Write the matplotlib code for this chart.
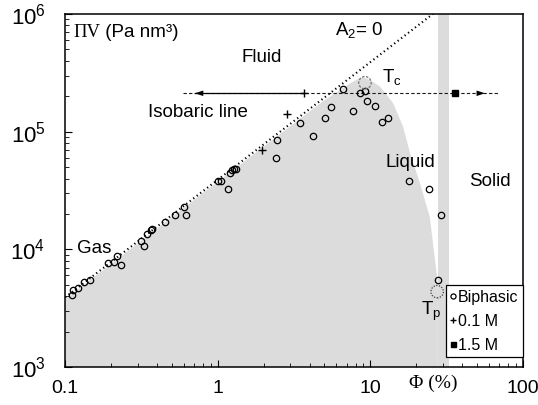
import matplotlib
matplotlib.use("Agg")
import matplotlib.pyplot as plt
import matplotlib.ticker as mticker
import numpy as np

plt.rcParams['font.family'] = ['Liberation Sans', 'DejaVu Sans']
plt.rcParams['mathtext.fontset'] = 'custom'
plt.rcParams['mathtext.rm'] = 'Liberation Sans'
plt.rcParams['mathtext.it'] = 'Liberation Sans:italic'

# biphasic samples: volume fraction (%) and osmotic pressure * volume (Pa nm^3)
biphasic_phi = [0.111, 0.112, 0.121, 0.134, 0.146, 0.191, 0.211, 0.220, 0.233,
                0.313, 0.330, 0.344, 0.365, 0.373, 0.453, 0.525, 0.604, 0.622,
                1.01, 1.05, 1.17, 1.20, 1.24, 1.28, 1.32, 2.41, 2.43, 3.46,
                4.23, 5.05, 5.50, 6.64, 7.66, 8.59, 9.22, 9.55, 10.7, 12.0,
                13.1, 17.9, 24.2, 29.0, 27.9]
biphasic_piv = [4100, 4520, 4730, 5310, 5500, 7590, 7860, 8790, 7410,
                11840, 10690, 13520, 14480, 14820, 16990, 19480, 23060, 19480,
                38360, 38360, 32800, 44330, 47290, 48500, 48500, 60140, 84500, 119300,
                92500, 130000, 161200, 229300, 150800, 211900, 220500, 182300, 166300, 120200,
                130000, 38360, 32600, 19480, 5500]

# 0.1 M salt
low_salt_phi = [1.96, 2.83, 3.69]
low_salt_piv = [69900, 140600, 212000]

# 1.5 M salt
high_salt_phi = [35.8]
high_salt_piv = [212000]

# A2 = 0 line (end points)
a2_phi = [0.095, 30.0]
a2_piv = [3700, 1170000]

# isobaric line
iso_piv = 212000
iso_phi = [0.59, 68.6]
iso_solid_phi = [0.71, 3.62]
iso_arrow_left = 0.71
iso_arrow_right = 56.3

# two-phase region boundary
phase_phi = [0.1, 1.0, 5.0, 6.2, 7.3, 8.3, 9.0, 10.1, 11.6, 14.1, 16.4, 18.2,
             21.1, 24.5, 27.5, 27.7]
phase_piv = [3750, 37500, 185000, 222000, 255000, 280000, 290000, 272000,
             241000, 175000, 110000, 66000, 36700, 19000, 5500, 4400]

# solid band
solid_band = [27.7, 32.7]

# critical point and triple point
tc_phi, tc_piv = 9.22, 260600
tp_phi, tp_piv = 27.4, 4370

x_ticks = [0.1, 1, 10, 100]
x_tick_labels = ['0.1', '1', '10', '100']
y_ticks = [1e3, 1e4, 1e5, 1e6]
y_tick_labels = [r'$\mathregular{10^{3}}$', r'$\mathregular{10^{4}}$',
                 r'$\mathregular{10^{5}}$', r'$\mathregular{10^{6}}$']

gray = '#dcdcdc'

fig = plt.figure(figsize=(5.38, 4.05), dpi=100)
ax = fig.add_axes([0.1208, 0.0938, 0.8513, 0.8716])
ax.set_xscale('log')
ax.set_yscale('log')
ax.set_xlim(0.1, 100)
ax.set_ylim(1e3, 1e6)

# shaded regions
fill_x = list(phase_phi) + [phase_phi[-1], phase_phi[0]]
fill_y = list(phase_piv) + [1e3, 1e3]
ax.fill(fill_x, fill_y, color=gray, lw=0, zorder=0)
ax.axvspan(solid_band[0], solid_band[1], color=gray, lw=0, zorder=0)

# A2 = 0
ax.plot(a2_phi, a2_piv, color='k', lw=1.5, ls=(0, (0.6, 1.5)), zorder=2)

# isobaric line
ax.plot(iso_phi, [iso_piv, iso_piv], color='0.1', lw=0.8, ls=(0, (3, 2)), zorder=2)
ax.plot(iso_solid_phi, [iso_piv, iso_piv], color='k', lw=0.9, zorder=2)
arrow = dict(arrowstyle='-|>,head_length=0.6,head_width=0.2', lw=0, color='k',
             shrinkA=0, shrinkB=0, mutation_scale=10)
ax.annotate('', xy=(iso_arrow_left, iso_piv), xytext=(1.2, iso_piv), arrowprops=arrow)
ax.annotate('', xy=(iso_arrow_right, iso_piv), xytext=(40, iso_piv), arrowprops=arrow)

# data
h_bi, = ax.plot(biphasic_phi, biphasic_piv, 'o', ms=4.6, mfc='none', mec='k', mew=0.9,
                ls='none', zorder=3, label='Biphasic')
h_low, = ax.plot(low_salt_phi, low_salt_piv, '+', ms=5.5, mec='k', mew=1.0,
                 ls='none', zorder=3, label='0.1 M')
h_high, = ax.plot(high_salt_phi, high_salt_piv, 's', ms=4.5, mfc='k', mec='k',
                  ls='none', zorder=3, label='1.5 M')

# critical / triple point markers
ax.scatter([tc_phi], [tc_piv], s=80, facecolors='none', edgecolors='0.45',
           linewidths=0.9, linestyles=(0, (2, 1.2)), zorder=3)
ax.scatter([tp_phi], [tp_piv], s=80, facecolors='none', edgecolors='0.25',
           linewidths=0.9, linestyles=(0, (1, 1.2)), zorder=3)

# text labels
fs = 13.5
ax.text(1.95, 431000, 'Fluid', fontsize=fs, ha='center', va='center')
ax.text(0.743, 146900, 'Isobaric line', fontsize=fs, ha='center', va='center')
ax.text(8.41, 731000, r'$\mathregular{A_2}$= 0', fontsize=fs, ha='center', va='center')
ax.text(12.0, 291700, r'$\mathregular{T_c}$', fontsize=fs, ha='left', va='center')
ax.text(18.2, 54200, 'Liquid', fontsize=fs, ha='center', va='center')
ax.text(60.7, 37400, 'Solid', fontsize=fs, ha='center', va='center')
ax.text(0.155, 10080, 'Gas', fontsize=fs, ha='center', va='center')
ax.text(24.9, 2960, r'$\mathregular{T_p}$', fontsize=fs, ha='center', va='center')

t1 = ax.text(0.0175, 0.949, 'ΠV', transform=ax.transAxes, fontsize=fs,
             family=['Liberation Serif', 'DejaVu Serif'], ha='left', va='center')
ax.annotate(' (Pa nm³)', xy=(1, 0), xycoords=t1, fontsize=fs, ha='left', va='bottom')

ax.text(25.7, -0.047, 'Φ (%)', transform=ax.get_xaxis_transform(), fontsize=14,
        family=['Liberation Serif', 'DejaVu Serif'], ha='center', va='center')

# ticks
ax.set_xticks(x_ticks)
ax.set_xticklabels(x_tick_labels)
ax.set_yticks(y_ticks)
ax.set_yticklabels(y_tick_labels)
ax.xaxis.set_minor_formatter(mticker.NullFormatter())
ax.yaxis.set_minor_formatter(mticker.NullFormatter())
ax.tick_params(which='both', direction='in', top=False, right=False)
ax.tick_params(axis='y', labelsize=16)
ax.tick_params(axis='x', labelsize=14)
ax.tick_params(which='major', length=5, width=0.8)
ax.tick_params(which='minor', length=3, width=0.6)
ax.tick_params(axis='y', pad=14)
ax.tick_params(axis='x', pad=9)
for s in ax.spines.values():
    s.set_linewidth(1.1)

leg = ax.legend(handles=[h_bi, h_low, h_high], loc='lower right',
                bbox_to_anchor=(1.0, 0.0275), fontsize=11.5, handlelength=0.3,
                handletextpad=0.15, borderpad=0.3, labelspacing=0.55,
                borderaxespad=0, fancybox=False, framealpha=1, markerscale=0.8)
leg.get_frame().set_edgecolor('k')
leg.get_frame().set_linewidth(0.9)

fig.savefig('out.png', dpi=100)
